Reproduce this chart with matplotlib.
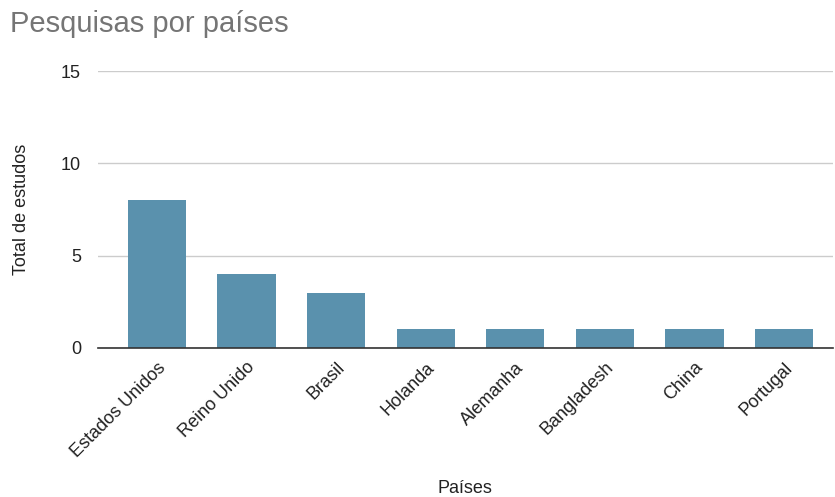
import matplotlib.pyplot as plt

plt.rcParams['font.family'] = ['Liberation Sans', 'DejaVu Sans']

paises = ['Estados Unidos', 'Reino Unido', 'Brasil', 'Holanda', 'Alemanha',
          'Bangladesh', 'China', 'Portugal']
total = [8, 4, 3, 1, 1, 1, 1, 1]
yticks = [0, 5, 10, 15]

fig = plt.figure(figsize=(8.35, 4.97), dpi=100)
ax = fig.add_axes([0.117, 0.300, 0.881, 0.557])

ax.bar(range(len(paises)), total, width=0.65, color='#5a91ad', zorder=3)
ax.set_xlim(-0.66, 7.55)
ax.set_ylim(0, 15)
ax.set_yticks(yticks)
ax.yaxis.grid(True, color='#cccccc', linewidth=1)
ax.set_axisbelow(True)
for s in ['top', 'right', 'left']:
    ax.spines[s].set_visible(False)
ax.spines['bottom'].set_color('#333333')
ax.spines['bottom'].set_linewidth(1.2)
ax.spines['bottom'].set_zorder(4)
ax.tick_params(axis='both', length=0, labelsize=13, colors='#222222')
ax.tick_params(axis='y', pad=12)
ax.set_xticks(range(len(paises)))
ax.set_xticklabels(paises, rotation=45, ha='right', rotation_mode='anchor')
ax.tick_params(axis='x', pad=8)

# x label sits at the very bottom of the figure
fig.text(0.557, 0.018, 'Países', fontsize=13, color='#222222',
         ha='center', va='center')
ax.set_ylabel('Total de estudos', fontsize=13, color='#222222', labelpad=22)

fig.text(0.012, 0.935, 'Pesquisas por países', fontsize=21, color='#757575')

fig.savefig('out.png', dpi=100)
